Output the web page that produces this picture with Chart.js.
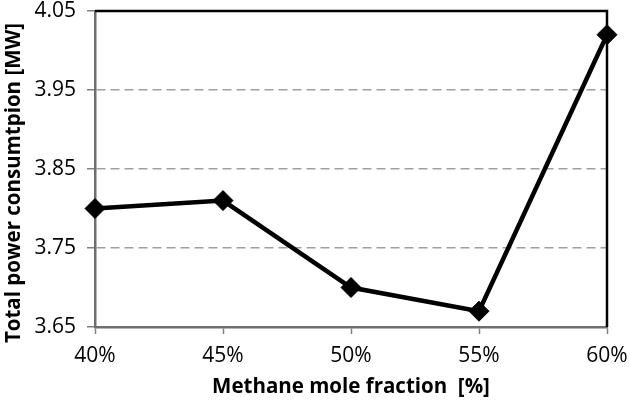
<!DOCTYPE html>
<html>
<head>
<meta charset="utf-8">
<script src="https://cdn.jsdelivr.net/npm/chart.js@4/dist/chart.umd.min.js"></script>
<style>
  html, body { margin: 0; padding: 0; background: #fff; }
  #wrap { width: 630px; height: 402px; }
</style>
</head>
<body>
<div id="wrap"><canvas id="powerChart"></canvas></div>
<script>
const fractions = ["40%", "45%", "50%", "55%", "60%"];
const power = [3.80, 3.81, 3.70, 3.67, 4.02];
const yTicks = [3.65, 3.75, 3.85, 3.95, 4.05];
const yTitle = "Total power consumtpion [MW]";

const font = "'Open Sans', 'Noto Sans', sans-serif";

// black frame on top and right, plus the y title which sits a bit low in the original
const frameBox = {
  id: "frameBox",
  afterDraw(chart) {
    const a = chart.chartArea;
    const ctx = chart.ctx;
    ctx.save();
    ctx.strokeStyle = "#000";
    ctx.lineWidth = 2.5;
    ctx.beginPath();
    ctx.moveTo(a.left, a.top);
    ctx.lineTo(a.right, a.top);
    ctx.lineTo(a.right, a.bottom);
    ctx.stroke();

    ctx.translate(14, (a.top + a.bottom) / 2 + 14);
    ctx.rotate(-Math.PI / 2);
    ctx.fillStyle = "#000";
    ctx.font = "bold 20.5px " + font;
    ctx.textAlign = "center";
    ctx.textBaseline = "middle";
    ctx.fillText(yTitle, 0, 0);
    ctx.restore();
  },
};

const config = {
  type: "line",
  data: {
    labels: fractions,
    datasets: [
      {
        data: power,
        borderColor: "#000",
        backgroundColor: "#000",
        borderWidth: 4.5,
        pointStyle: "rectRot",
        pointRadius: 10,
        pointBorderWidth: 1,
        tension: 0,
      },
    ],
  },
  options: {
    responsive: true,
    maintainAspectRatio: false,
    animation: false,
    layout: { padding: { top: 11, right: 23, left: 0, bottom: 0 } },
    plugins: { legend: { display: false }, tooltip: { enabled: false } },
    scales: {
      x: {
        offset: false,
        grid: {
          drawOnChartArea: false,
          tickLength: 7,
          tickColor: "#808080",
          tickWidth: 1.5,
        },
        border: { color: "#6e6e6e", width: 2.5 },
        ticks: { color: "#000", font: { family: font, size: 21 }, padding: 9, maxRotation: 0 },
        title: {
          display: true,
          text: "Methane mole fraction  [%]",
          color: "#000",
          font: { family: font, size: 20.5, weight: "bold" },
          padding: { top: 2, bottom: 3 },
        },
        afterFit(scale) {
          scale.height = 75;
          scale.paddingLeft = 0;
          scale.paddingRight = 0;
        },
      },
      y: {
        min: 3.65,
        max: 4.05,
        afterBuildTicks(scale) { scale.ticks = yTicks.map((v) => ({ value: v })); },
        grid: {
          color: (c) => (c.tick && (c.tick.value === 3.65 || c.tick.value === 4.05) ? "rgba(0,0,0,0)" : "#a0a0a0"),
          lineWidth: 1.5,
          tickLength: 8,
          tickColor: "#808080",
          tickWidth: 1.5,
          tickBorderDash: [],
        },
        border: { color: "#6e6e6e", width: 2.5, dash: [9, 5] },
        ticks: {
          color: "#000",
          font: { family: font, size: 21 },
          padding: 11,
          callback: (v) => v.toFixed(2),
        },
        title: { display: false },
        afterFit(scale) {
          scale.width = 95;
          scale.paddingTop = 0;
          scale.paddingBottom = 0;
        },
      },
    },
  },
  plugins: [frameBox],
};

var powerChart = new Chart(document.getElementById("powerChart"), config);
</script>
</body>
</html>
